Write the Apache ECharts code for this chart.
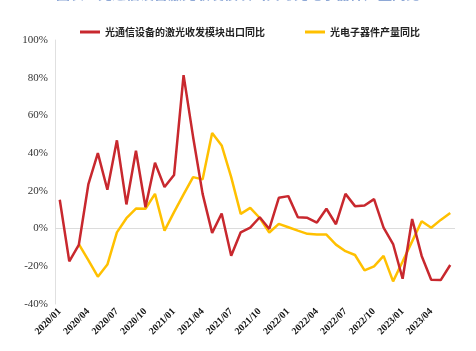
<!DOCTYPE html>
<html lang="zh">
  <head>
    <meta charset="UTF-8" />
    <script src="https://cdn.jsdelivr.net/npm/echarts@6/dist/echarts.min.js"></script>
    <style>
      html, body { margin: 0; padding: 0; background: #fff; }
      #main { width: 476px; height: 351px; }
    </style>
  </head>
  <body>
    <div id="main"></div>
    <script>
      const months = [
        "2020/01", "2020/02", "2020/03", "2020/04", "2020/05", "2020/06",
        "2020/07", "2020/08", "2020/09", "2020/10", "2020/11", "2020/12",
        "2021/01", "2021/02", "2021/03", "2021/04", "2021/05", "2021/06",
        "2021/07", "2021/08", "2021/09", "2021/10", "2021/11", "2021/12",
        "2022/01", "2022/02", "2022/03", "2022/04", "2022/05", "2022/06",
        "2022/07", "2022/08", "2022/09", "2022/10", "2022/11", "2022/12",
        "2023/01", "2023/02", "2023/03", "2023/04", "2023/05", "2023/06",
      ];
      // 光通信设备的激光收发模块出口同比 (%)
      const laserExport = [
        15.3, -17.4, -8.7, 23.4, 40, 20.6, 46.8, 12.8, 41.3, 11.3, 34.9, 22,
        28.4, 81.4, 48.6, 18.4, -2.3, 8, -14.4, -2, 0.5, 6, -0.2, 16.3,
        17.2, 6, 5.7, 3.2, 10.5, 2.3, 18.4, 11.9, 12.2, 15.6, 0.5, -8.2,
        -26.6, 5.1, -14.5, -27.1, -27.3, -19.3,
      ];
      // 光电子器件产量同比 (%)
      const optoOutput = [
        null, null, -8.2, -16.7, -25.5, -19.1, -2, 5.5, 10.6, 10.5, 18.4, -1.1,
        8.7, 18.1, 27.3, 26.1, 50.7, 44.1, 27.3, 7.8, 11, 5.6, -2.1, 2.5,
        0.7, -1.1, -2.8, -3.2, -3.2, -8.5, -12, -14, -22.2, -20, -14.5, -28,
        -17.5, -6.8, 3.9, 0.4, 4.6, 8.3,
      ];
      const seriesNames = ["光通信设备的激光收发模块出口同比", "光电子器件产量同比"];

      const chart = echarts.init(document.getElementById("main"));

      chart.setOption({
        backgroundColor: "#fff",
        animation: false,
        title: {
          text: "图表：光通信设备激光收发模块出口与光电子器件产量同比",
          left: "center",
          top: -18,
          textStyle: {
            color: "#8ea8d6",
            fontSize: 14,
            fontWeight: "bold",
            fontFamily: "Noto Sans CJK SC",
          },
        },
        legend: {
          top: 22,
          left: 75,
          itemGap: 40,
          itemWidth: 20,
          itemHeight: 3,
          icon: "rect",
          textStyle: {
            fontSize: 10,
            fontWeight: "bold",
            color: "#222",
            fontFamily: "Noto Sans CJK SC",
          },
          data: seriesNames,
        },
        grid: { left: 55, right: 21, top: 40, bottom: 47 },
        xAxis: {
          type: "category",
          data: months,
          boundaryGap: true,
          axisLine: { show: false },
          axisTick: { show: false },
          axisLabel: {
            interval: 2,
            rotate: 45,
            margin: 6,
            fontSize: 10,
            fontWeight: "bold",
            color: "#111",
            fontFamily: "Liberation Serif",
          },
        },
        yAxis: {
          type: "value",
          min: -40,
          max: 100,
          interval: 20,
          axisLine: { show: true, lineStyle: { color: "#e0e0e0", width: 1 } },
          axisTick: { show: false },
          splitLine: { show: false },
          axisLabel: {
            formatter: "{value}%",
            margin: 7,
            fontSize: 11,
            color: "#333",
            fontFamily: "Liberation Serif",
          },
        },
        series: [
          {
            name: seriesNames[0],
            type: "line",
            data: laserExport,
            symbol: "none",
            z: 3,
            lineStyle: { color: "#c8282e", width: 2.5 },
            itemStyle: { color: "#c8282e" },
            markLine: {
              silent: true,
              symbol: "none",
              label: { show: false },
              lineStyle: { color: "#dcdcdc", width: 1, type: "solid" },
              data: [{ yAxis: 0 }],
              z: 1,
            },
          },
          {
            name: seriesNames[1],
            type: "line",
            data: optoOutput,
            symbol: "none",
            z: 2,
            lineStyle: { color: "#ffc000", width: 2.5 },
            itemStyle: { color: "#ffc000" },
          },
        ],
      });
    </script>
  </body>
</html>
